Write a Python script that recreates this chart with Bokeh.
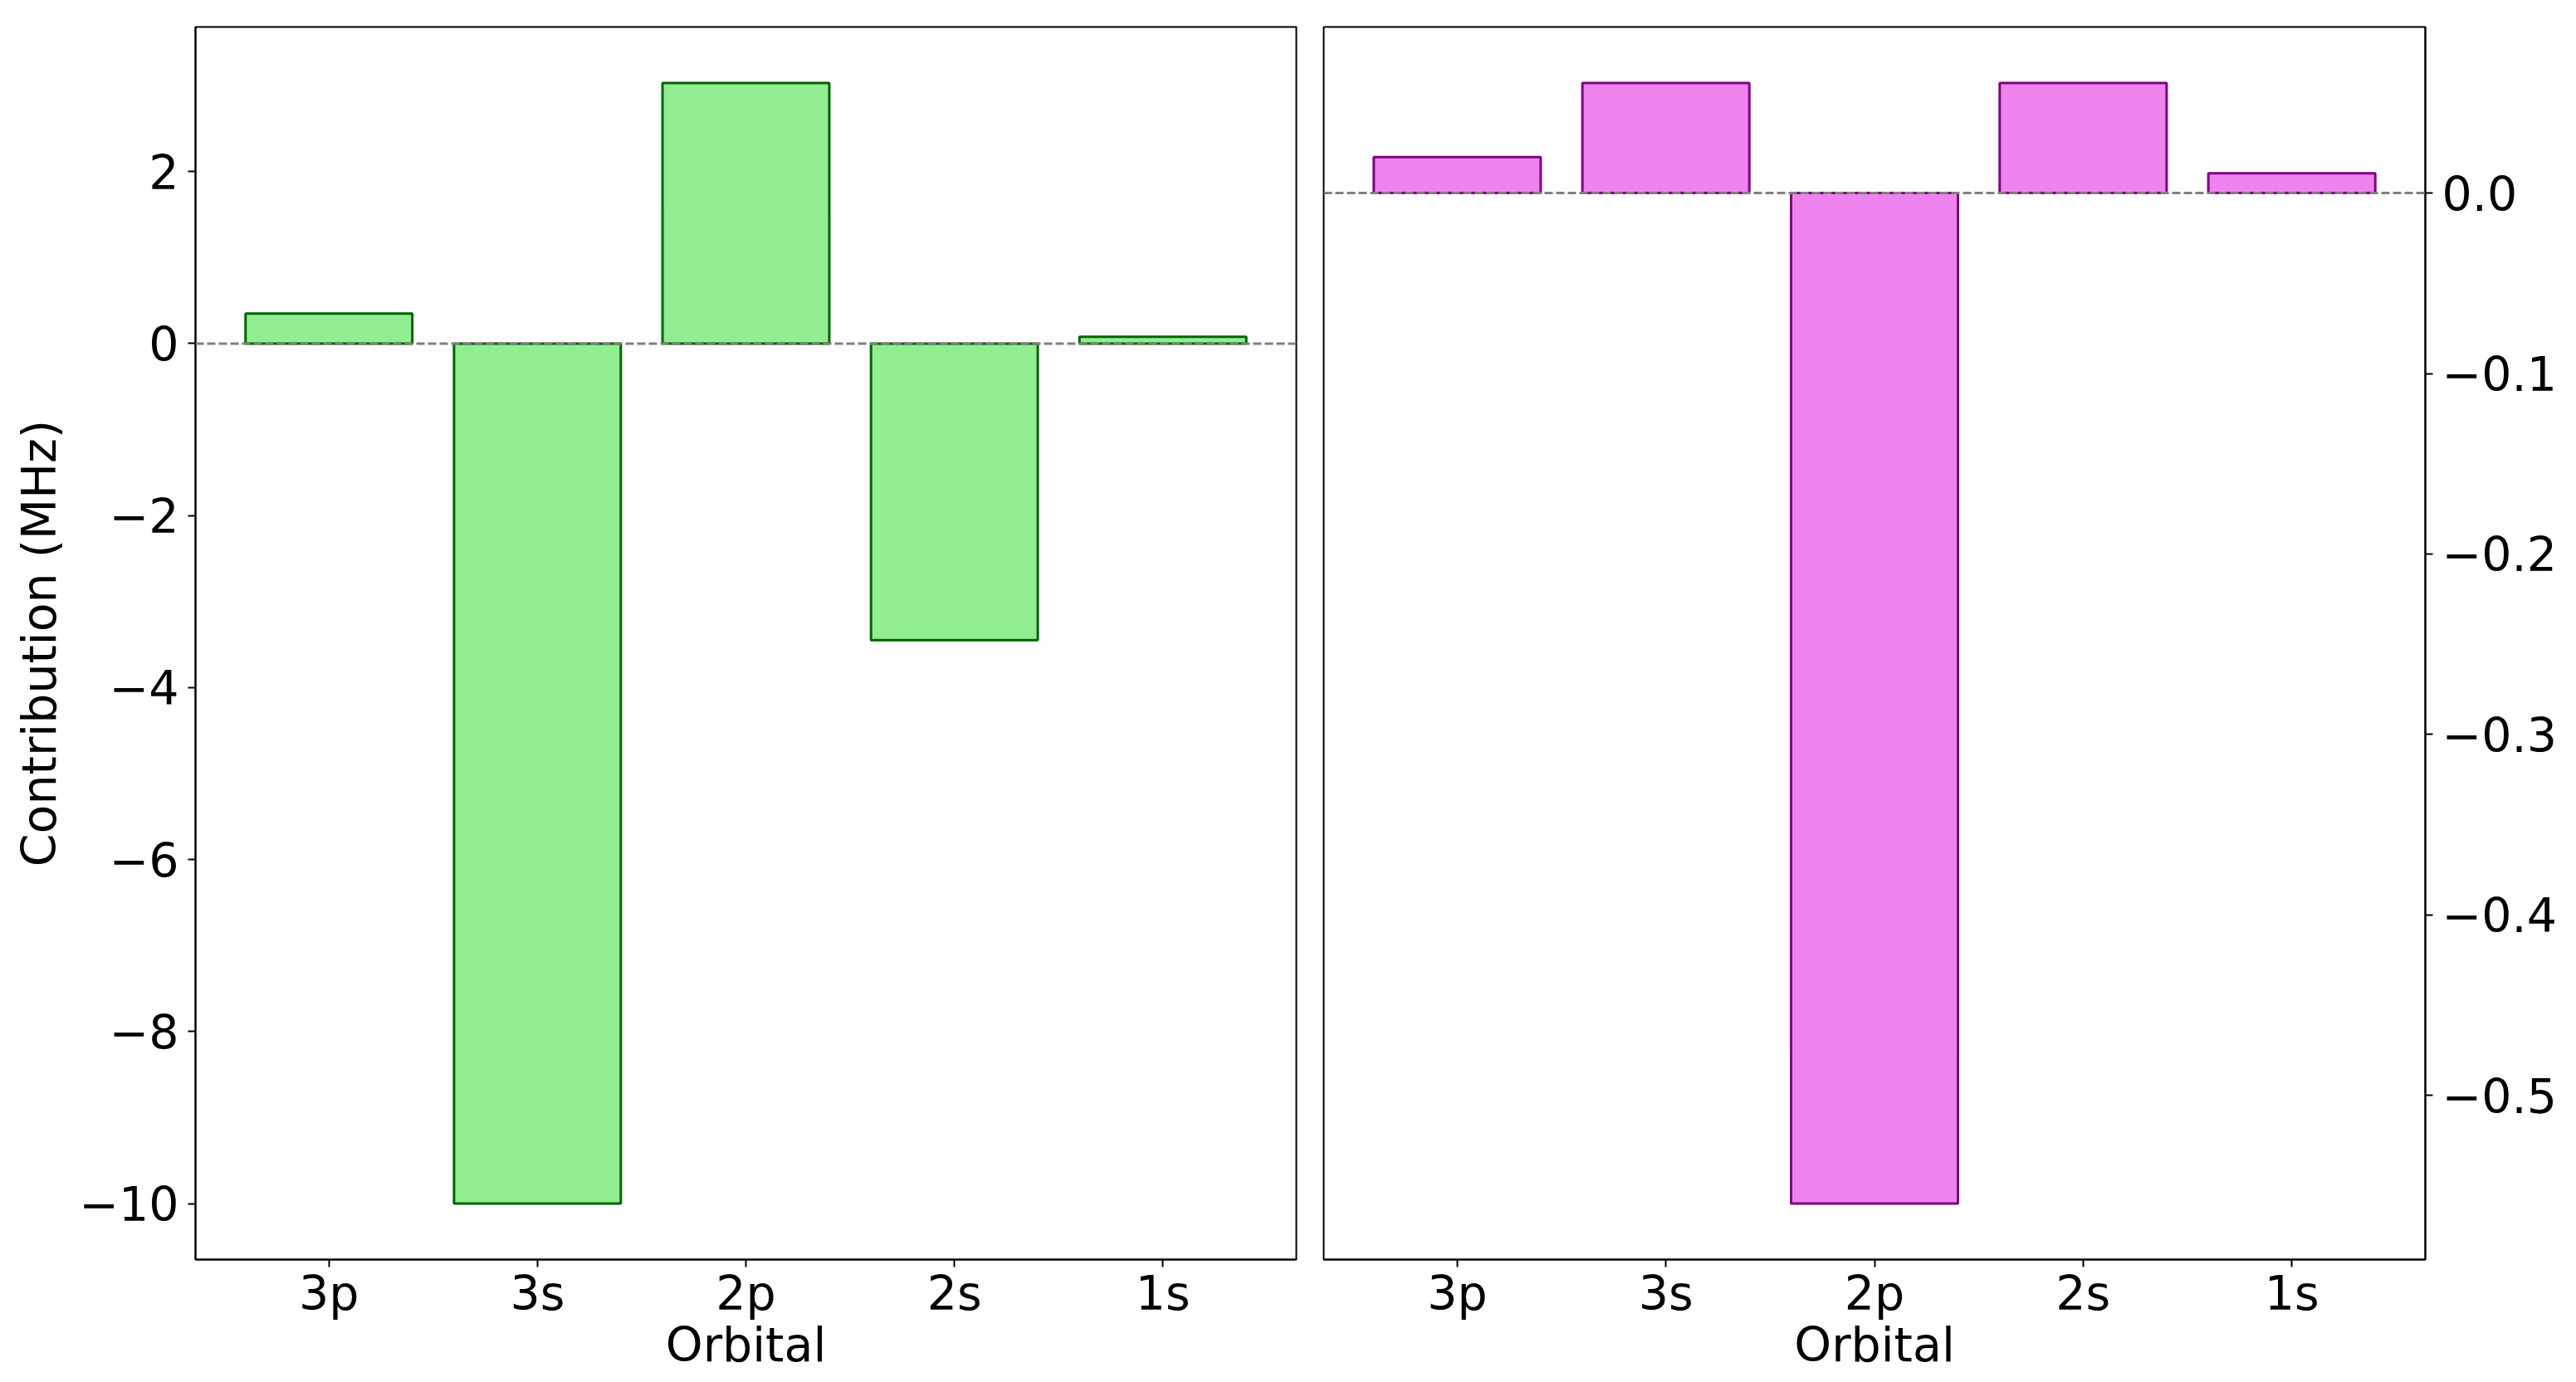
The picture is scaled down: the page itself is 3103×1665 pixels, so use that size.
from bokeh.plotting import figure
from bokeh.layouts import row
from bokeh.models import FactorRange, Range1d, Span, FixedTicker, ColumnDataSource
from bokeh.embed import file_html
from bokeh.resources import INLINE

# ---- data ----
orbitals = ["3p", "3s", "2p", "2s", "1s"]
left_values = [0.35, -10.0, 3.03, -3.45, 0.08]
right_values = [0.02, 0.061, -0.56, 0.061, 0.011]

left_ticks = [2, 0, -2, -4, -6, -8, -10]
left_tick_labels = ["2", "0", "\u22122", "\u22124", "\u22126", "\u22128", "\u221210"]
right_ticks = [0.0, -0.1, -0.2, -0.3, -0.4, -0.5]
right_tick_labels = ["0.0", "\u22120.1", "\u22120.2", "\u22120.3", "\u22120.4", "\u22120.5"]

x_label = "Orbital"
y_label = "Contribution (MHz)"

FONT = "DejaVu Sans"
FS = "57px"


def padded(vals, frac=0.05):
    lo, hi = min(min(vals), 0), max(max(vals), 0)
    d = hi - lo
    return Range1d(start=lo - frac * d, end=hi + frac * d)


def style(p):
    p.xgrid.visible = False
    p.ygrid.visible = False
    p.outline_line_color = "black"
    p.outline_line_width = 2
    p.outline_line_alpha = 1.0
    p.background_fill_color = "white"
    p.border_fill_color = "white"
    for ax in p.axis:
        ax.axis_line_color = "black"
        ax.axis_line_width = 2
        ax.major_tick_line_color = "black"
        ax.major_tick_line_width = 2
        ax.major_tick_in = 0
        ax.major_tick_out = 9
        ax.minor_tick_line_color = None
        ax.major_label_text_font = FONT
        ax.major_label_text_font_size = FS
        ax.major_label_text_color = "black"
        ax.axis_label_text_font = FONT
        ax.axis_label_text_font_size = FS
        ax.axis_label_text_font_style = "normal"
        ax.axis_label_text_color = "black"
    p.xaxis.major_label_standoff = -2
    p.xaxis.axis_label_standoff = -7
    p.yaxis.major_label_standoff = 11


# ---- left panel ----
src1 = ColumnDataSource(dict(orbital=orbitals, value=left_values))
p1 = figure(
    x_range=FactorRange(*orbitals, range_padding=0.056, range_padding_units="percent"),
    y_range=padded(left_values),
    width=1577, height=1660,
    output_backend="svg", toolbar_location=None,
    min_border_left=235, min_border_right=16, min_border_top=32, min_border_bottom=143,
)
p1.vbar(x="orbital", top="value", bottom=0, width=0.8, source=src1,
        fill_color="lightgreen", line_color="darkgreen", line_width=3)
p1.add_layout(Span(location=0, dimension="width", line_color="gray",
                   line_dash="10 4", line_width=3))
style(p1)
p1.xaxis.axis_label = x_label
p1.yaxis.axis_label = y_label
p1.yaxis.ticker = FixedTicker(ticks=left_ticks)
p1.yaxis.major_label_overrides = dict(zip(left_ticks, left_tick_labels))
p1.yaxis.axis_label_standoff = 12

# ---- right panel ----
src2 = ColumnDataSource(dict(orbital=orbitals, value=right_values))
p2 = figure(
    x_range=FactorRange(*orbitals, range_padding=0.056, range_padding_units="percent"),
    y_range=padded(right_values),
    y_axis_location="right",
    width=1514, height=1660,
    output_backend="svg", toolbar_location=None,
    min_border_left=17, min_border_right=170, min_border_top=32, min_border_bottom=143,
)
p2.vbar(x="orbital", top="value", bottom=0, width=0.8, source=src2,
        fill_color="violet", line_color="purple", line_width=3)
p2.add_layout(Span(location=0, dimension="width", line_color="gray",
                   line_dash="10 4", line_width=3))
style(p2)
p2.xaxis.axis_label = x_label
p2.yaxis.ticker = FixedTicker(ticks=right_ticks)
p2.yaxis.major_label_overrides = dict(zip(right_ticks, right_tick_labels))

layout = row(p1, p2)
open("out.html", "w").write(file_html(layout, INLINE))
